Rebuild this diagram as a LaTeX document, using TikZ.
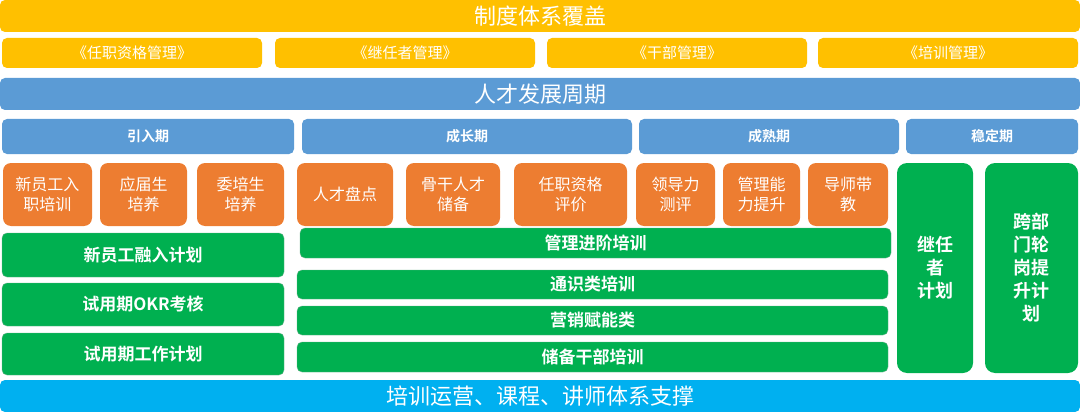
\documentclass[tikz,border=0pt]{standalone}
\usepackage{fontspec}
\setmainfont{Noto Sans CJK SC}
\newfontfamily\cjkbold{Noto Sans CJK SC Bold}
\usetikzlibrary{positioning}
\definecolor{sysyellow}{HTML}{FFC000}
\definecolor{talentblue}{HTML}{5B9BD5}
\definecolor{itemorange}{HTML}{ED7D31}
\definecolor{plangreen}{HTML}{00B050}
\definecolor{basecyan}{HTML}{00B0F0}
% box from (x1,y1) to (x2,y2) in pixels, y downwards
\newcommand{\blk}[7]{\node[#6, minimum width={(#4-#2)*1pt}, minimum height={(#5-#3)*1pt}] (#1) at ({(#2+#4)/2},{-(#3+#5)/2}) {#7};}

\begin{document}
\begin{tikzpicture}[x=1pt, y=1pt,
  base/.style={rounded corners=5pt, text=white, inner sep=0pt, align=center},
  bar/.style={base, font=\fontsize{22}{24}\selectfont},
  lawbox/.style={base, fill=sysyellow, font=\fontsize{15}{17}\selectfont},
  phasebox/.style={base, fill=talentblue, font=\cjkbold\fontsize{14}{16}\selectfont},
  itembox/.style={base, fill=itemorange, rounded corners=8pt, font=\fontsize{16}{20}\selectfont},
  planbox/.style={base, fill=plangreen, draw=plangreen!70!black!60, font=\cjkbold\fontsize{17}{20}\selectfont},
  tallbox/.style={base, fill=plangreen, rounded corners=10pt, font=\cjkbold\fontsize{18}{23}\selectfont}]
\useasboundingbox (0,0) rectangle (1080,-412);

\blk{cover}{0}{0}{1080}{32}{bar, fill=sysyellow}{制度体系覆盖}
\blk{law1}{2}{38}{262}{68}{lawbox}{《任职资格管理》}
\blk{law2}{275}{38}{535}{68}{lawbox}{《继任者管理》}
\blk{law3}{547}{38}{807}{68}{lawbox}{《干部管理》}
\blk{law4}{818}{38}{1078}{68}{lawbox}{《培训管理》}
\blk{cycle}{0}{78}{1080}{110}{bar, fill=talentblue}{人才发展周期}

\blk{intro}{2}{119}{294}{154}{phasebox}{引入期}
\blk{grow}{302}{119}{632}{154}{phasebox}{成长期}
\blk{mature}{639}{119}{899}{154}{phasebox}{成熟期}
\blk{stable}{906}{119}{1078}{154}{phasebox}{稳定期}

\blk{onboard}{3}{163}{92}{226}{itembox}{新员工入\\职培训}
\blk{graduate}{100}{163}{187}{226}{itembox}{应届生\\培养}
\blk{trainee}{197}{163}{284}{226}{itembox}{委培生\\培养}
\blk{review}{297}{163}{393}{226}{itembox}{人才盘点}
\blk{reserve}{406}{163}{500}{226}{itembox}{骨干人才\\储备}
\blk{qualify}{514}{163}{627}{226}{itembox}{任职资格\\评价}
\blk{leader}{636}{163}{715}{226}{itembox}{领导力\\测评}
\blk{manage}{723}{163}{800}{226}{itembox}{管理能\\力提升}
\blk{mentor}{808}{163}{888}{226}{itembox}{导师带\\教}

\blk{fusion}{2}{233}{284}{277}{planbox}{新员工融入计划}
\blk{okr}{2}{283}{284}{326}{planbox}{试用期OKR考核}
\blk{workplan}{2}{333}{284}{375}{planbox}{试用期工作计划}
\blk{advance}{300}{228}{891}{258}{planbox}{管理进阶培训}
\blk{general}{297}{270}{888}{299}{planbox}{通识类培训}
\blk{sales}{297}{306}{888}{335}{planbox}{营销赋能类}
\blk{cadre}{297}{342}{888}{372}{planbox}{储备干部培训}
\blk{succession}{897}{163}{973}{373}{tallbox}{继任\\者\\计划}
\blk{rotation}{985}{163}{1078}{373}{tallbox}{跨部\\门轮\\岗提\\升计\\划}

\blk{support}{0}{380}{1080}{412}{bar, fill=basecyan}{培训运营、课程、讲师体系支撑}
\end{tikzpicture}
\end{document}
